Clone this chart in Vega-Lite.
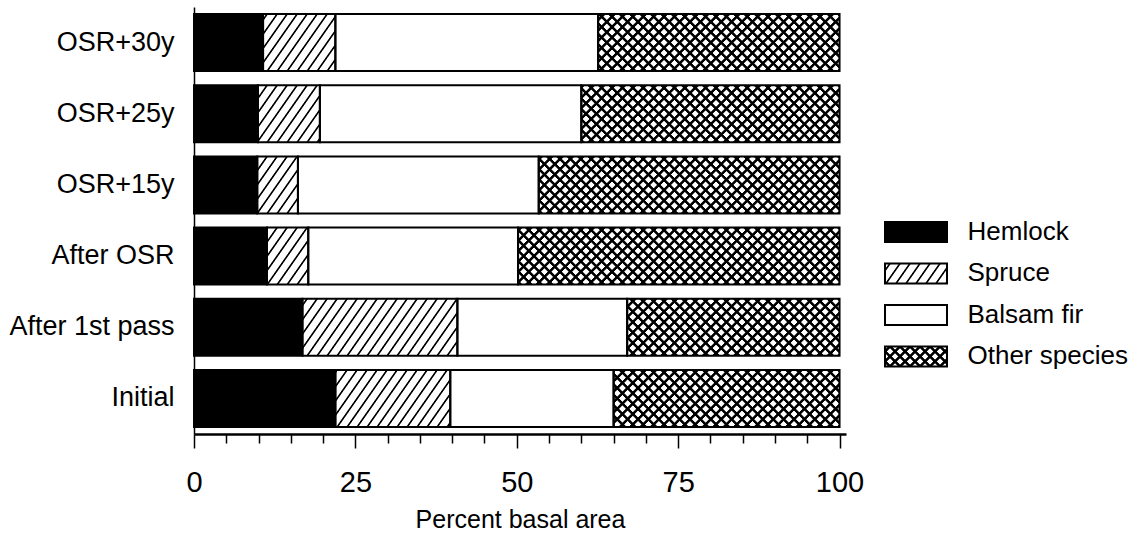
{
  "$schema": "https://vega.github.io/schema/vega-lite/v6.json",
  "background": "white",
  "padding": {"left": 8, "top": 7, "right": 0, "bottom": 0},
  "config": {"view": {"stroke": null}, "font": "Liberation Sans"},
  "bounds": "flush",
  "spacing": 39,
  "hconcat": [
    {
      "width": 652,
      "height": 427,
      "data": {
        "values": [
          {"stand": "OSR+30y", "species": "Hemlock", "pct": 10.7},
          {"stand": "OSR+30y", "species": "Spruce", "pct": 11.2},
          {"stand": "OSR+30y", "species": "Balsam fir", "pct": 40.7},
          {"stand": "OSR+30y", "species": "Other species", "pct": 37.4},
          {"stand": "OSR+25y", "species": "Hemlock", "pct": 9.9},
          {"stand": "OSR+25y", "species": "Spruce", "pct": 9.6},
          {"stand": "OSR+25y", "species": "Balsam fir", "pct": 40.5},
          {"stand": "OSR+25y", "species": "Other species", "pct": 40.0},
          {"stand": "OSR+15y", "species": "Hemlock", "pct": 9.8},
          {"stand": "OSR+15y", "species": "Spruce", "pct": 6.3},
          {"stand": "OSR+15y", "species": "Balsam fir", "pct": 37.3},
          {"stand": "OSR+15y", "species": "Other species", "pct": 46.6},
          {"stand": "After OSR", "species": "Hemlock", "pct": 11.3},
          {"stand": "After OSR", "species": "Spruce", "pct": 6.4},
          {"stand": "After OSR", "species": "Balsam fir", "pct": 32.5},
          {"stand": "After OSR", "species": "Other species", "pct": 49.8},
          {"stand": "After 1st pass", "species": "Hemlock", "pct": 16.8},
          {"stand": "After 1st pass", "species": "Spruce", "pct": 24.0},
          {"stand": "After 1st pass", "species": "Balsam fir", "pct": 26.3},
          {"stand": "After 1st pass", "species": "Other species", "pct": 32.9},
          {"stand": "Initial", "species": "Hemlock", "pct": 21.9},
          {"stand": "Initial", "species": "Spruce", "pct": 17.8},
          {"stand": "Initial", "species": "Balsam fir", "pct": 25.3},
          {"stand": "Initial", "species": "Other species", "pct": 35.0}
        ]
      },
      "transform": [{"stack": "pct", "groupby": ["stand"], "as": ["x0", "x1"]}],
      "encoding": {
        "y": {
          "field": "stand",
          "type": "nominal",
          "scale": {
            "domain": ["OSR+30y", "OSR+25y", "OSR+15y", "After OSR", "After 1st pass", "Initial"],
            "paddingInner": 0.2,
            "paddingOuter": 0.1
          },
          "axis": {
            "title": null,
            "ticks": false,
            "domainColor": "black",
            "domainWidth": 1.5,
            "labelFontSize": 27,
            "labelColor": "black",
            "labelPadding": 20
          }
        }
      },
      "resolve": {"axis": {"x": "independent"}},
      "layer": [
        {
          "transform": [{"filter": {"field": "species", "equal": "Other species"}}],
          "mark": {
            "type": "rect",
            "strokeWidth": 0,
            "fill": {
              "gradient": "linear", "x1": 0, "y1": 0, "x2": 1.42787, "y2": 0.228962,
              "stops": [
                {"offset":0.0056,"color":"#fff"},{"offset":0.0075,"color":"#000"},{"offset":0.0125,"color":"#000"},{"offset":0.0144,"color":"#fff"},
                {"offset":0.0256,"color":"#fff"},{"offset":0.0275,"color":"#000"},{"offset":0.0325,"color":"#000"},{"offset":0.0344,"color":"#fff"},
                {"offset":0.0456,"color":"#fff"},{"offset":0.0475,"color":"#000"},{"offset":0.0525,"color":"#000"},{"offset":0.0544,"color":"#fff"},
                {"offset":0.0656,"color":"#fff"},{"offset":0.0675,"color":"#000"},{"offset":0.0725,"color":"#000"},{"offset":0.0744,"color":"#fff"},
                {"offset":0.0856,"color":"#fff"},{"offset":0.0875,"color":"#000"},{"offset":0.0925,"color":"#000"},{"offset":0.0944,"color":"#fff"},
                {"offset":0.1056,"color":"#fff"},{"offset":0.1075,"color":"#000"},{"offset":0.1125,"color":"#000"},{"offset":0.1144,"color":"#fff"},
                {"offset":0.1256,"color":"#fff"},{"offset":0.1275,"color":"#000"},{"offset":0.1325,"color":"#000"},{"offset":0.1344,"color":"#fff"},
                {"offset":0.1456,"color":"#fff"},{"offset":0.1475,"color":"#000"},{"offset":0.1525,"color":"#000"},{"offset":0.1544,"color":"#fff"},
                {"offset":0.1656,"color":"#fff"},{"offset":0.1675,"color":"#000"},{"offset":0.1725,"color":"#000"},{"offset":0.1744,"color":"#fff"},
                {"offset":0.1856,"color":"#fff"},{"offset":0.1875,"color":"#000"},{"offset":0.1925,"color":"#000"},{"offset":0.1944,"color":"#fff"},
                {"offset":0.2056,"color":"#fff"},{"offset":0.2075,"color":"#000"},{"offset":0.2125,"color":"#000"},{"offset":0.2144,"color":"#fff"},
                {"offset":0.2256,"color":"#fff"},{"offset":0.2275,"color":"#000"},{"offset":0.2325,"color":"#000"},{"offset":0.2344,"color":"#fff"},
                {"offset":0.2456,"color":"#fff"},{"offset":0.2475,"color":"#000"},{"offset":0.2525,"color":"#000"},{"offset":0.2544,"color":"#fff"},
                {"offset":0.2656,"color":"#fff"},{"offset":0.2675,"color":"#000"},{"offset":0.2725,"color":"#000"},{"offset":0.2744,"color":"#fff"},
                {"offset":0.2856,"color":"#fff"},{"offset":0.2875,"color":"#000"},{"offset":0.2925,"color":"#000"},{"offset":0.2944,"color":"#fff"},
                {"offset":0.3056,"color":"#fff"},{"offset":0.3075,"color":"#000"},{"offset":0.3125,"color":"#000"},{"offset":0.3144,"color":"#fff"},
                {"offset":0.3256,"color":"#fff"},{"offset":0.3275,"color":"#000"},{"offset":0.3325,"color":"#000"},{"offset":0.3344,"color":"#fff"},
                {"offset":0.3456,"color":"#fff"},{"offset":0.3475,"color":"#000"},{"offset":0.3525,"color":"#000"},{"offset":0.3544,"color":"#fff"},
                {"offset":0.3656,"color":"#fff"},{"offset":0.3675,"color":"#000"},{"offset":0.3725,"color":"#000"},{"offset":0.3744,"color":"#fff"},
                {"offset":0.3856,"color":"#fff"},{"offset":0.3875,"color":"#000"},{"offset":0.3925,"color":"#000"},{"offset":0.3944,"color":"#fff"},
                {"offset":0.4056,"color":"#fff"},{"offset":0.4075,"color":"#000"},{"offset":0.4125,"color":"#000"},{"offset":0.4144,"color":"#fff"},
                {"offset":0.4256,"color":"#fff"},{"offset":0.4275,"color":"#000"},{"offset":0.4325,"color":"#000"},{"offset":0.4344,"color":"#fff"},
                {"offset":0.4456,"color":"#fff"},{"offset":0.4475,"color":"#000"},{"offset":0.4525,"color":"#000"},{"offset":0.4544,"color":"#fff"},
                {"offset":0.4656,"color":"#fff"},{"offset":0.4675,"color":"#000"},{"offset":0.4725,"color":"#000"},{"offset":0.4744,"color":"#fff"},
                {"offset":0.4856,"color":"#fff"},{"offset":0.4875,"color":"#000"},{"offset":0.4925,"color":"#000"},{"offset":0.4944,"color":"#fff"},
                {"offset":0.5056,"color":"#fff"},{"offset":0.5075,"color":"#000"},{"offset":0.5125,"color":"#000"},{"offset":0.5144,"color":"#fff"},
                {"offset":0.5256,"color":"#fff"},{"offset":0.5275,"color":"#000"},{"offset":0.5325,"color":"#000"},{"offset":0.5344,"color":"#fff"},
                {"offset":0.5456,"color":"#fff"},{"offset":0.5475,"color":"#000"},{"offset":0.5525,"color":"#000"},{"offset":0.5544,"color":"#fff"},
                {"offset":0.5656,"color":"#fff"},{"offset":0.5675,"color":"#000"},{"offset":0.5725,"color":"#000"},{"offset":0.5744,"color":"#fff"},
                {"offset":0.5856,"color":"#fff"},{"offset":0.5875,"color":"#000"},{"offset":0.5925,"color":"#000"},{"offset":0.5944,"color":"#fff"},
                {"offset":0.6056,"color":"#fff"},{"offset":0.6075,"color":"#000"},{"offset":0.6125,"color":"#000"},{"offset":0.6144,"color":"#fff"},
                {"offset":0.6256,"color":"#fff"},{"offset":0.6275,"color":"#000"},{"offset":0.6325,"color":"#000"},{"offset":0.6344,"color":"#fff"},
                {"offset":0.6456,"color":"#fff"},{"offset":0.6475,"color":"#000"},{"offset":0.6525,"color":"#000"},{"offset":0.6544,"color":"#fff"},
                {"offset":0.6656,"color":"#fff"},{"offset":0.6675,"color":"#000"},{"offset":0.6725,"color":"#000"},{"offset":0.6744,"color":"#fff"},
                {"offset":0.6856,"color":"#fff"},{"offset":0.6875,"color":"#000"},{"offset":0.6925,"color":"#000"},{"offset":0.6944,"color":"#fff"},
                {"offset":0.7056,"color":"#fff"},{"offset":0.7075,"color":"#000"},{"offset":0.7125,"color":"#000"},{"offset":0.7144,"color":"#fff"},
                {"offset":0.7256,"color":"#fff"},{"offset":0.7275,"color":"#000"},{"offset":0.7325,"color":"#000"},{"offset":0.7344,"color":"#fff"},
                {"offset":0.7456,"color":"#fff"},{"offset":0.7475,"color":"#000"},{"offset":0.7525,"color":"#000"},{"offset":0.7544,"color":"#fff"},
                {"offset":0.7656,"color":"#fff"},{"offset":0.7675,"color":"#000"},{"offset":0.7725,"color":"#000"},{"offset":0.7744,"color":"#fff"},
                {"offset":0.7856,"color":"#fff"},{"offset":0.7875,"color":"#000"},{"offset":0.7925,"color":"#000"},{"offset":0.7944,"color":"#fff"}
              ]
            }
          },
          "encoding": {
            "x": {"datum": 45, "type": "quantitative", "scale": {"domain": [0, 101], "nice": false}, "axis": null},
            "x2": {"datum": 100}
          }
        },
        {
          "transform": [{"filter": {"field": "species", "equal": "Other species"}}],
          "mark": {
            "type": "rect",
            "strokeWidth": 0,
            "fill": {
              "gradient": "linear", "x1": 0, "y1": 1, "x2": 1.42787, "y2": 0.771038,
              "stops": [
                {"offset":0.0056,"color":"transparent"},{"offset":0.0075,"color":"#000"},{"offset":0.0125,"color":"#000"},{"offset":0.0144,"color":"transparent"},
                {"offset":0.0256,"color":"transparent"},{"offset":0.0275,"color":"#000"},{"offset":0.0325,"color":"#000"},{"offset":0.0344,"color":"transparent"},
                {"offset":0.0456,"color":"transparent"},{"offset":0.0475,"color":"#000"},{"offset":0.0525,"color":"#000"},{"offset":0.0544,"color":"transparent"},
                {"offset":0.0656,"color":"transparent"},{"offset":0.0675,"color":"#000"},{"offset":0.0725,"color":"#000"},{"offset":0.0744,"color":"transparent"},
                {"offset":0.0856,"color":"transparent"},{"offset":0.0875,"color":"#000"},{"offset":0.0925,"color":"#000"},{"offset":0.0944,"color":"transparent"},
                {"offset":0.1056,"color":"transparent"},{"offset":0.1075,"color":"#000"},{"offset":0.1125,"color":"#000"},{"offset":0.1144,"color":"transparent"},
                {"offset":0.1256,"color":"transparent"},{"offset":0.1275,"color":"#000"},{"offset":0.1325,"color":"#000"},{"offset":0.1344,"color":"transparent"},
                {"offset":0.1456,"color":"transparent"},{"offset":0.1475,"color":"#000"},{"offset":0.1525,"color":"#000"},{"offset":0.1544,"color":"transparent"},
                {"offset":0.1656,"color":"transparent"},{"offset":0.1675,"color":"#000"},{"offset":0.1725,"color":"#000"},{"offset":0.1744,"color":"transparent"},
                {"offset":0.1856,"color":"transparent"},{"offset":0.1875,"color":"#000"},{"offset":0.1925,"color":"#000"},{"offset":0.1944,"color":"transparent"},
                {"offset":0.2056,"color":"transparent"},{"offset":0.2075,"color":"#000"},{"offset":0.2125,"color":"#000"},{"offset":0.2144,"color":"transparent"},
                {"offset":0.2256,"color":"transparent"},{"offset":0.2275,"color":"#000"},{"offset":0.2325,"color":"#000"},{"offset":0.2344,"color":"transparent"},
                {"offset":0.2456,"color":"transparent"},{"offset":0.2475,"color":"#000"},{"offset":0.2525,"color":"#000"},{"offset":0.2544,"color":"transparent"},
                {"offset":0.2656,"color":"transparent"},{"offset":0.2675,"color":"#000"},{"offset":0.2725,"color":"#000"},{"offset":0.2744,"color":"transparent"},
                {"offset":0.2856,"color":"transparent"},{"offset":0.2875,"color":"#000"},{"offset":0.2925,"color":"#000"},{"offset":0.2944,"color":"transparent"},
                {"offset":0.3056,"color":"transparent"},{"offset":0.3075,"color":"#000"},{"offset":0.3125,"color":"#000"},{"offset":0.3144,"color":"transparent"},
                {"offset":0.3256,"color":"transparent"},{"offset":0.3275,"color":"#000"},{"offset":0.3325,"color":"#000"},{"offset":0.3344,"color":"transparent"},
                {"offset":0.3456,"color":"transparent"},{"offset":0.3475,"color":"#000"},{"offset":0.3525,"color":"#000"},{"offset":0.3544,"color":"transparent"},
                {"offset":0.3656,"color":"transparent"},{"offset":0.3675,"color":"#000"},{"offset":0.3725,"color":"#000"},{"offset":0.3744,"color":"transparent"},
                {"offset":0.3856,"color":"transparent"},{"offset":0.3875,"color":"#000"},{"offset":0.3925,"color":"#000"},{"offset":0.3944,"color":"transparent"},
                {"offset":0.4056,"color":"transparent"},{"offset":0.4075,"color":"#000"},{"offset":0.4125,"color":"#000"},{"offset":0.4144,"color":"transparent"},
                {"offset":0.4256,"color":"transparent"},{"offset":0.4275,"color":"#000"},{"offset":0.4325,"color":"#000"},{"offset":0.4344,"color":"transparent"},
                {"offset":0.4456,"color":"transparent"},{"offset":0.4475,"color":"#000"},{"offset":0.4525,"color":"#000"},{"offset":0.4544,"color":"transparent"},
                {"offset":0.4656,"color":"transparent"},{"offset":0.4675,"color":"#000"},{"offset":0.4725,"color":"#000"},{"offset":0.4744,"color":"transparent"},
                {"offset":0.4856,"color":"transparent"},{"offset":0.4875,"color":"#000"},{"offset":0.4925,"color":"#000"},{"offset":0.4944,"color":"transparent"},
                {"offset":0.5056,"color":"transparent"},{"offset":0.5075,"color":"#000"},{"offset":0.5125,"color":"#000"},{"offset":0.5144,"color":"transparent"},
                {"offset":0.5256,"color":"transparent"},{"offset":0.5275,"color":"#000"},{"offset":0.5325,"color":"#000"},{"offset":0.5344,"color":"transparent"},
                {"offset":0.5456,"color":"transparent"},{"offset":0.5475,"color":"#000"},{"offset":0.5525,"color":"#000"},{"offset":0.5544,"color":"transparent"},
                {"offset":0.5656,"color":"transparent"},{"offset":0.5675,"color":"#000"},{"offset":0.5725,"color":"#000"},{"offset":0.5744,"color":"transparent"},
                {"offset":0.5856,"color":"transparent"},{"offset":0.5875,"color":"#000"},{"offset":0.5925,"color":"#000"},{"offset":0.5944,"color":"transparent"},
                {"offset":0.6056,"color":"transparent"},{"offset":0.6075,"color":"#000"},{"offset":0.6125,"color":"#000"},{"offset":0.6144,"color":"transparent"},
                {"offset":0.6256,"color":"transparent"},{"offset":0.6275,"color":"#000"},{"offset":0.6325,"color":"#000"},{"offset":0.6344,"color":"transparent"},
                {"offset":0.6456,"color":"transparent"},{"offset":0.6475,"color":"#000"},{"offset":0.6525,"color":"#000"},{"offset":0.6544,"color":"transparent"},
                {"offset":0.6656,"color":"transparent"},{"offset":0.6675,"color":"#000"},{"offset":0.6725,"color":"#000"},{"offset":0.6744,"color":"transparent"},
                {"offset":0.6856,"color":"transparent"},{"offset":0.6875,"color":"#000"},{"offset":0.6925,"color":"#000"},{"offset":0.6944,"color":"transparent"},
                {"offset":0.7056,"color":"transparent"},{"offset":0.7075,"color":"#000"},{"offset":0.7125,"color":"#000"},{"offset":0.7144,"color":"transparent"},
                {"offset":0.7256,"color":"transparent"},{"offset":0.7275,"color":"#000"},{"offset":0.7325,"color":"#000"},{"offset":0.7344,"color":"transparent"},
                {"offset":0.7456,"color":"transparent"},{"offset":0.7475,"color":"#000"},{"offset":0.7525,"color":"#000"},{"offset":0.7544,"color":"transparent"},
                {"offset":0.7656,"color":"transparent"},{"offset":0.7675,"color":"#000"},{"offset":0.7725,"color":"#000"},{"offset":0.7744,"color":"transparent"},
                {"offset":0.7856,"color":"transparent"},{"offset":0.7875,"color":"#000"},{"offset":0.7925,"color":"#000"},{"offset":0.7944,"color":"transparent"}
              ]
            }
          },
          "encoding": {
            "x": {"datum": 45, "type": "quantitative", "scale": {"domain": [0, 101], "nice": false}, "axis": null},
            "x2": {"datum": 100}
          }
        },
        {
          "transform": [{"filter": {"field": "species", "equal": "Spruce"}}],
          "mark": {
            "type": "rect",
            "strokeWidth": 0,
            "fill": {
              "gradient": "linear", "x1": 0, "y1": 0, "x2": 2.26768, "y2": 0.424358,
              "stops": [
                {"offset":0.0070,"color":"#fff"},{"offset":0.0090,"color":"#000"},{"offset":0.0110,"color":"#000"},{"offset":0.0130,"color":"#fff"},
                {"offset":0.0270,"color":"#fff"},{"offset":0.0290,"color":"#000"},{"offset":0.0310,"color":"#000"},{"offset":0.0330,"color":"#fff"},
                {"offset":0.0470,"color":"#fff"},{"offset":0.0490,"color":"#000"},{"offset":0.0510,"color":"#000"},{"offset":0.0530,"color":"#fff"},
                {"offset":0.0670,"color":"#fff"},{"offset":0.0690,"color":"#000"},{"offset":0.0710,"color":"#000"},{"offset":0.0730,"color":"#fff"},
                {"offset":0.0870,"color":"#fff"},{"offset":0.0890,"color":"#000"},{"offset":0.0910,"color":"#000"},{"offset":0.0930,"color":"#fff"},
                {"offset":0.1070,"color":"#fff"},{"offset":0.1090,"color":"#000"},{"offset":0.1110,"color":"#000"},{"offset":0.1130,"color":"#fff"},
                {"offset":0.1270,"color":"#fff"},{"offset":0.1290,"color":"#000"},{"offset":0.1310,"color":"#000"},{"offset":0.1330,"color":"#fff"},
                {"offset":0.1470,"color":"#fff"},{"offset":0.1490,"color":"#000"},{"offset":0.1510,"color":"#000"},{"offset":0.1530,"color":"#fff"},
                {"offset":0.1670,"color":"#fff"},{"offset":0.1690,"color":"#000"},{"offset":0.1710,"color":"#000"},{"offset":0.1730,"color":"#fff"},
                {"offset":0.1870,"color":"#fff"},{"offset":0.1890,"color":"#000"},{"offset":0.1910,"color":"#000"},{"offset":0.1930,"color":"#fff"},
                {"offset":0.2070,"color":"#fff"},{"offset":0.2090,"color":"#000"},{"offset":0.2110,"color":"#000"},{"offset":0.2130,"color":"#fff"},
                {"offset":0.2270,"color":"#fff"},{"offset":0.2290,"color":"#000"},{"offset":0.2310,"color":"#000"},{"offset":0.2330,"color":"#fff"},
                {"offset":0.2470,"color":"#fff"},{"offset":0.2490,"color":"#000"},{"offset":0.2510,"color":"#000"},{"offset":0.2530,"color":"#fff"},
                {"offset":0.2670,"color":"#fff"},{"offset":0.2690,"color":"#000"},{"offset":0.2710,"color":"#000"},{"offset":0.2730,"color":"#fff"},
                {"offset":0.2870,"color":"#fff"},{"offset":0.2890,"color":"#000"},{"offset":0.2910,"color":"#000"},{"offset":0.2930,"color":"#fff"},
                {"offset":0.3070,"color":"#fff"},{"offset":0.3090,"color":"#000"},{"offset":0.3110,"color":"#000"},{"offset":0.3130,"color":"#fff"},
                {"offset":0.3270,"color":"#fff"},{"offset":0.3290,"color":"#000"},{"offset":0.3310,"color":"#000"},{"offset":0.3330,"color":"#fff"},
                {"offset":0.3470,"color":"#fff"},{"offset":0.3490,"color":"#000"},{"offset":0.3510,"color":"#000"},{"offset":0.3530,"color":"#fff"},
                {"offset":0.3670,"color":"#fff"},{"offset":0.3690,"color":"#000"},{"offset":0.3710,"color":"#000"},{"offset":0.3730,"color":"#fff"},
                {"offset":0.3870,"color":"#fff"},{"offset":0.3890,"color":"#000"},{"offset":0.3910,"color":"#000"},{"offset":0.3930,"color":"#fff"},
                {"offset":0.4070,"color":"#fff"},{"offset":0.4090,"color":"#000"},{"offset":0.4110,"color":"#000"},{"offset":0.4130,"color":"#fff"},
                {"offset":0.4270,"color":"#fff"},{"offset":0.4290,"color":"#000"},{"offset":0.4310,"color":"#000"},{"offset":0.4330,"color":"#fff"},
                {"offset":0.4470,"color":"#fff"},{"offset":0.4490,"color":"#000"},{"offset":0.4510,"color":"#000"},{"offset":0.4530,"color":"#fff"},
                {"offset":0.4670,"color":"#fff"},{"offset":0.4690,"color":"#000"},{"offset":0.4710,"color":"#000"},{"offset":0.4730,"color":"#fff"},
                {"offset":0.4870,"color":"#fff"},{"offset":0.4890,"color":"#000"},{"offset":0.4910,"color":"#000"},{"offset":0.4930,"color":"#fff"},
                {"offset":0.5070,"color":"#fff"},{"offset":0.5090,"color":"#000"},{"offset":0.5110,"color":"#000"},{"offset":0.5130,"color":"#fff"}
              ]
            }
          },
          "encoding": {
            "x": {"datum": 9, "type": "quantitative", "scale": {"domain": [0, 101], "nice": false}, "axis": null},
            "x2": {"datum": 42}
          }
        },
        {
          "transform": [{"filter": {"field": "species", "equal": "Hemlock"}}],
          "mark": {"type": "rect", "fill": "#000", "strokeWidth": 0},
          "encoding": {
            "x": {
              "field": "x0",
              "type": "quantitative",
              "scale": {"domain": [0, 101], "nice": false},
              "axis": {
                "orient": "bottom",
                "values": [0, 25, 50, 75, 100],
                "grid": false,
                "tickSize": 14,
                "tickWidth": 1.5,
                "tickColor": "black",
                "domainColor": "black",
                "domainWidth": 2.5,
                "labelFontSize": 29,
                "labelColor": "black",
                "labelPadding": 20,
                "labelFlush": false,
                "labelOverlap": false,
                "title": "Percent basal area",
                "titleFontSize": 25,
                "titleFontWeight": "normal",
                "titleColor": "black",
                "titlePadding": 10
              }
            },
            "x2": {"field": "x1"}
          }
        },
        {
          "transform": [{"filter": {"field": "species", "equal": "Balsam fir"}}],
          "mark": {"type": "rect", "fill": "#fff", "strokeWidth": 0},
          "encoding": {
            "x": {"field": "x0", "type": "quantitative", "scale": {"domain": [0, 101], "nice": false}, "axis": null},
            "x2": {"field": "x1"}
          }
        },
        {
          "mark": {"type": "rect", "filled": false, "stroke": "#000", "strokeWidth": 2},
          "encoding": {
            "x": {
              "field": "x0",
              "type": "quantitative",
              "scale": {"domain": [0, 101], "nice": false},
              "axis": {
                "orient": "bottom",
                "values": [5, 10, 15, 20, 30, 35, 40, 45, 55, 60, 65, 70, 80, 85, 90, 95],
                "grid": false,
                "domain": false,
                "labels": false,
                "title": null,
                "tickSize": 9,
                "tickWidth": 1.5,
                "tickColor": "black"
              }
            },
            "x2": {"field": "x1"}
          }
        }
      ]
    },
    {
      "width": 62,
      "height": 427,
      "data": {
        "values": [
          {"species": "Hemlock"},
          {"species": "Spruce"},
          {"species": "Balsam fir"},
          {"species": "Other species"}
        ]
      },
      "encoding": {
        "y": {
          "field": "species",
          "type": "nominal",
          "scale": {
            "domain": ["Hemlock", "Spruce", "Balsam fir", "Other species"],
            "range": [215, 359.4],
            "paddingInner": 0.52,
            "paddingOuter": 0
          },
          "axis": {
            "orient": "right",
            "title": null,
            "ticks": false,
            "domain": false,
            "labelFontSize": 26,
            "labelColor": "black",
            "labelPadding": 20
          }
        },
        "x": {"datum": 0, "type": "quantitative", "scale": {"domain": [0, 1]}, "axis": null},
        "x2": {"datum": 1}
      },
      "layer": [
        {
          "transform": [{"filter": {"field": "species", "equal": "Hemlock"}}],
          "mark": {"type": "rect", "fill": "#000", "strokeWidth": 0}
        },
        {
          "transform": [{"filter": {"field": "species", "equal": "Spruce"}}],
          "mark": {
            "type": "rect",
            "strokeWidth": 0,
            "fill": {
              "gradient": "linear", "x1": 0, "y1": 0, "x2": 1.535202, "y2": 0.345374,
              "stops": [
                {"offset":0.035,"color":"#fff"},{"offset":0.045,"color":"#000"},{"offset":0.055,"color":"#000"},{"offset":0.065,"color":"#fff"},
                {"offset":0.135,"color":"#fff"},{"offset":0.145,"color":"#000"},{"offset":0.155,"color":"#000"},{"offset":0.165,"color":"#fff"},
                {"offset":0.235,"color":"#fff"},{"offset":0.245,"color":"#000"},{"offset":0.255,"color":"#000"},{"offset":0.265,"color":"#fff"},
                {"offset":0.335,"color":"#fff"},{"offset":0.345,"color":"#000"},{"offset":0.355,"color":"#000"},{"offset":0.365,"color":"#fff"},
                {"offset":0.435,"color":"#fff"},{"offset":0.445,"color":"#000"},{"offset":0.455,"color":"#000"},{"offset":0.465,"color":"#fff"},
                {"offset":0.535,"color":"#fff"},{"offset":0.545,"color":"#000"},{"offset":0.555,"color":"#000"},{"offset":0.565,"color":"#fff"},
                {"offset":0.635,"color":"#fff"},{"offset":0.645,"color":"#000"},{"offset":0.655,"color":"#000"},{"offset":0.665,"color":"#fff"},
                {"offset":0.735,"color":"#fff"},{"offset":0.745,"color":"#000"},{"offset":0.755,"color":"#000"},{"offset":0.765,"color":"#fff"}
              ]
            }
          }
        },
        {
          "transform": [{"filter": {"field": "species", "equal": "Other species"}}],
          "mark": {
            "type": "rect",
            "strokeWidth": 0,
            "fill": {
              "gradient": "linear", "x1": 0, "y1": 0, "x2": 1.46199, "y2": 0.469723,
              "stops": [
                {"offset":0.027,"color":"#fff"},{"offset":0.037,"color":"#000"},{"offset":0.063,"color":"#000"},{"offset":0.073,"color":"#fff"},
                {"offset":0.127,"color":"#fff"},{"offset":0.137,"color":"#000"},{"offset":0.163,"color":"#000"},{"offset":0.173,"color":"#fff"},
                {"offset":0.227,"color":"#fff"},{"offset":0.237,"color":"#000"},{"offset":0.263,"color":"#000"},{"offset":0.273,"color":"#fff"},
                {"offset":0.327,"color":"#fff"},{"offset":0.337,"color":"#000"},{"offset":0.363,"color":"#000"},{"offset":0.373,"color":"#fff"},
                {"offset":0.427,"color":"#fff"},{"offset":0.437,"color":"#000"},{"offset":0.463,"color":"#000"},{"offset":0.473,"color":"#fff"},
                {"offset":0.527,"color":"#fff"},{"offset":0.537,"color":"#000"},{"offset":0.563,"color":"#000"},{"offset":0.573,"color":"#fff"},
                {"offset":0.627,"color":"#fff"},{"offset":0.637,"color":"#000"},{"offset":0.663,"color":"#000"},{"offset":0.673,"color":"#fff"},
                {"offset":0.727,"color":"#fff"},{"offset":0.737,"color":"#000"},{"offset":0.763,"color":"#000"},{"offset":0.773,"color":"#fff"}
              ]
            }
          }
        },
        {
          "transform": [{"filter": {"field": "species", "equal": "Other species"}}],
          "mark": {
            "type": "rect",
            "strokeWidth": 0,
            "fill": {
              "gradient": "linear", "x1": 0, "y1": 1, "x2": 1.46199, "y2": 0.530277,
              "stops": [
                {"offset":0.027,"color":"transparent"},{"offset":0.037,"color":"#000"},{"offset":0.063,"color":"#000"},{"offset":0.073,"color":"transparent"},
                {"offset":0.127,"color":"transparent"},{"offset":0.137,"color":"#000"},{"offset":0.163,"color":"#000"},{"offset":0.173,"color":"transparent"},
                {"offset":0.227,"color":"transparent"},{"offset":0.237,"color":"#000"},{"offset":0.263,"color":"#000"},{"offset":0.273,"color":"transparent"},
                {"offset":0.327,"color":"transparent"},{"offset":0.337,"color":"#000"},{"offset":0.363,"color":"#000"},{"offset":0.373,"color":"transparent"},
                {"offset":0.427,"color":"transparent"},{"offset":0.437,"color":"#000"},{"offset":0.463,"color":"#000"},{"offset":0.473,"color":"transparent"},
                {"offset":0.527,"color":"transparent"},{"offset":0.537,"color":"#000"},{"offset":0.563,"color":"#000"},{"offset":0.573,"color":"transparent"},
                {"offset":0.627,"color":"transparent"},{"offset":0.637,"color":"#000"},{"offset":0.663,"color":"#000"},{"offset":0.673,"color":"transparent"},
                {"offset":0.727,"color":"transparent"},{"offset":0.737,"color":"#000"},{"offset":0.763,"color":"#000"},{"offset":0.773,"color":"transparent"}
              ]
            }
          }
        },
        {
          "mark": {"type": "rect", "filled": false, "stroke": "#000", "strokeWidth": 2}
        }
      ]
    }
  ]
}
